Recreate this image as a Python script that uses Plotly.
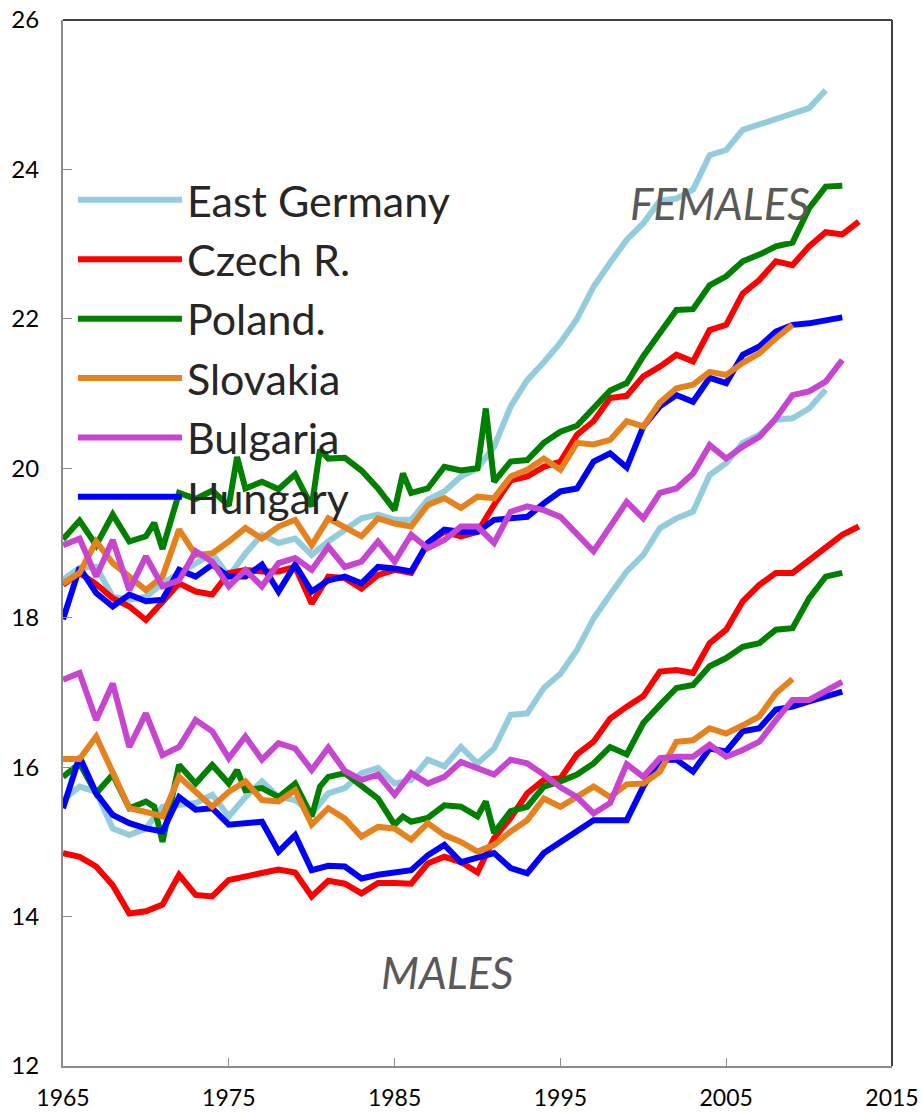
import plotly.graph_objects as go

# ---------------- data ----------------
years_eg = list(range(1965, 2012))
eg_f = [18.51, 18.67, 18.68, 18.28, 18.24, 18.28, 18.46, 18.60, 18.73, 18.86,
        18.55, 18.86, 19.11, 19.00, 19.06, 18.84, 19.02, 19.18, 19.33, 19.38,
        19.31, 19.31, 19.58, 19.69, 19.89, 20.00, 20.29, 20.83, 21.18, 21.42,
        21.68, 22.00, 22.43, 22.75, 23.06, 23.28, 23.58, 23.61, 23.73, 24.19,
        24.26, 24.53, 24.60, 24.69, 24.75, 24.82, 25.06]
eg_m = [15.56, 15.74, 15.67, 15.18, 15.09, 15.18, 15.47, 15.49, 15.52, 15.63,
        15.34, 15.60, 15.81, 15.60, 15.56, 15.38, 15.65, 15.72, 15.92, 15.99,
        15.78, 15.83, 16.10, 16.01, 16.27, 16.05, 16.25, 16.70, 16.72, 17.06,
        17.25, 17.57, 17.99, 18.31, 18.62, 18.84, 19.20, 19.33, 19.42, 19.91,
        20.07, 20.34, 20.45, 20.65, 20.67, 20.80, 21.05]

years_cz = list(range(1965, 2014))
cz_f = [18.44, 18.60, 18.45, 18.26, 18.15, 17.97, 18.21, 18.46, 18.35, 18.31,
        18.60, 18.64, 18.62, 18.62, 18.68, 18.19, 18.55, 18.53, 18.39, 18.57,
        18.64, 18.60, 19.00, 19.15, 19.09, 19.15, 19.51, 19.84, 19.89, 20.02,
        20.09, 20.45, 20.63, 20.94, 20.97, 21.23, 21.36, 21.52, 21.43, 21.85,
        21.92, 22.34, 22.52, 22.77, 22.72, 22.97, 23.16, 23.13, 23.30]
cz_m = [14.85, 14.80, 14.67, 14.42, 14.04, 14.07, 14.16, 14.56, 14.29, 14.27,
        14.49, 14.53, 14.58, 14.63, 14.59, 14.27, 14.48, 14.44, 14.31, 14.45,
        14.45, 14.44, 14.71, 14.80, 14.73, 14.59, 15.05, 15.32, 15.65, 15.83,
        15.85, 16.17, 16.34, 16.65, 16.81, 16.95, 17.28, 17.30, 17.26, 17.66,
        17.84, 18.22, 18.44, 18.60, 18.60, 18.77, 18.95, 19.11, 19.22]

years_pl = [1965, 1966, 1967, 1968, 1969, 1970, 1970.5, 1971, 1972, 1973, 1974,
            1975, 1975.5, 1976, 1977, 1978, 1979, 1980, 1980.5, 1981, 1982,
            1983, 1984, 1985, 1985.5, 1986, 1987, 1988, 1989, 1990, 1990.5,
            1991, 1992, 1993, 1994, 1995, 1996, 1997, 1998, 1999, 2000, 2001,
            2002, 2003, 2004, 2005, 2006, 2007, 2008, 2009, 2010, 2011, 2012]
pl_f = [19.05, 19.30, 18.97, 19.38, 19.02, 19.09, 19.27, 18.92, 19.67, 19.59,
        19.70, 19.50, 20.15, 19.73, 19.82, 19.72, 19.92, 19.49, 20.25, 20.13,
        20.14, 19.97, 19.73, 19.44, 19.93, 19.67, 19.73, 20.02, 19.97, 20.00,
        20.80, 19.82, 20.09, 20.11, 20.34, 20.49, 20.57, 20.80, 21.04, 21.14,
        21.50, 21.81, 22.12, 22.13, 22.45, 22.57, 22.77, 22.86, 22.97, 23.02,
        23.48, 23.77, 23.78]
pl_m = [15.87, 16.05, 15.65, 15.90, 15.45, 15.54, 15.47, 15.00, 16.03, 15.78,
        16.03, 15.78, 15.96, 15.69, 15.72, 15.60, 15.78, 15.34, 15.74, 15.87,
        15.92, 15.74, 15.58, 15.23, 15.34, 15.27, 15.32, 15.49, 15.47, 15.34,
        15.54, 15.12, 15.41, 15.47, 15.74, 15.81, 15.90, 16.05, 16.27, 16.17,
        16.59, 16.83, 17.06, 17.10, 17.35, 17.46, 17.61, 17.66, 17.84, 17.86,
        18.26, 18.55, 18.60]

years_sk = list(range(1965, 2010))
sk_f = [18.46, 18.60, 19.02, 18.73, 18.55, 18.37, 18.55, 19.18, 18.84, 18.86,
        19.02, 19.20, 19.06, 19.22, 19.31, 18.97, 19.33, 19.22, 19.09, 19.33,
        19.26, 19.22, 19.51, 19.60, 19.47, 19.62, 19.60, 19.89, 19.98, 20.13,
        19.98, 20.34, 20.32, 20.38, 20.63, 20.56, 20.88, 21.07, 21.12, 21.29,
        21.25, 21.41, 21.54, 21.74, 21.92]
sk_m = [16.11, 16.11, 16.41, 15.92, 15.45, 15.40, 15.34, 15.87, 15.67, 15.47,
        15.67, 15.81, 15.56, 15.54, 15.69, 15.23, 15.45, 15.31, 15.07, 15.20,
        15.18, 15.03, 15.25, 15.09, 15.00, 14.87, 14.96, 15.14, 15.29, 15.58,
        15.47, 15.60, 15.74, 15.60, 15.77, 15.78, 15.94, 16.34, 16.36, 16.52,
        16.45, 16.56, 16.68, 16.99, 17.18]

years_bg = list(range(1965, 2013))
bg_f = [18.97, 19.06, 18.55, 19.04, 18.37, 18.82, 18.42, 18.50, 18.89, 18.75,
        18.42, 18.64, 18.42, 18.73, 18.80, 18.64, 18.95, 18.68, 18.75, 19.02,
        18.75, 19.11, 18.93, 19.04, 19.22, 19.22, 19.00, 19.42, 19.49, 19.44,
        19.35, 19.13, 18.89, 19.22, 19.55, 19.33, 19.67, 19.73, 19.93, 20.31,
        20.13, 20.29, 20.42, 20.67, 20.98, 21.03, 21.16, 21.45]
bg_m = [17.17, 17.26, 16.63, 17.12, 16.27, 16.72, 16.16, 16.27, 16.63, 16.48,
        16.12, 16.41, 16.10, 16.32, 16.25, 15.96, 16.26, 15.95, 15.83, 15.90,
        15.63, 15.92, 15.78, 15.87, 16.07, 15.99, 15.90, 16.10, 16.05, 15.90,
        15.73, 15.60, 15.38, 15.52, 16.04, 15.87, 16.12, 16.14, 16.14, 16.30,
        16.14, 16.23, 16.34, 16.63, 16.90, 16.90, 17.01, 17.14]

years_hu = list(range(1965, 2013))
hu_f = [17.98, 18.67, 18.33, 18.15, 18.31, 18.22, 18.24, 18.64, 18.55, 18.71,
        18.55, 18.55, 18.71, 18.35, 18.71, 18.35, 18.50, 18.55, 18.46, 18.68,
        18.66, 18.62, 19.00, 19.18, 19.15, 19.15, 19.31, 19.33, 19.35, 19.53,
        19.69, 19.73, 20.09, 20.20, 20.01, 20.56, 20.83, 20.98, 20.89, 21.21,
        21.14, 21.52, 21.63, 21.83, 21.92, 21.94, 21.98, 22.02]
hu_m = [15.45, 16.14, 15.65, 15.36, 15.25, 15.18, 15.14, 15.60, 15.43, 15.45,
        15.23, 15.25, 15.27, 14.87, 15.09, 14.62, 14.68, 14.67, 14.51, 14.56,
        14.60, 14.62, 14.82, 14.96, 14.73, 14.80, 14.85, 14.65, 14.58, 14.85,
        15.00, 15.14, 15.29, 15.29, 15.29, 15.74, 16.10, 16.10, 15.94, 16.25,
        16.21, 16.48, 16.52, 16.77, 16.81, 16.88, 16.94, 17.01]

x_ticks = [1965, 1975, 1985, 1995, 2005, 2015]
y_ticks = [12, 14, 16, 18, 20, 22, 24, 26]

# (name, years, female, male, colour, legend rank) in drawing order
series = [
    ("East Germany", years_eg, eg_f, eg_m, "#93CDDD", 1),
    ("Czech R.", years_cz, cz_f, cz_m, "#FF0000", 2),
    ("Poland.", years_pl, pl_f, pl_m, "#008000", 3),
    ("Hungary", years_hu, hu_f, hu_m, "#0000FF", 6),
    ("Slovakia", years_sk, sk_f, sk_m, "#E5821E", 4),
    ("Bulgaria", years_bg, bg_f, bg_m, "#C745D1", 5),
]

fig = go.Figure()
for name, yrs, fem, mal, col, rank in series:
    fig.add_trace(go.Scatter(x=yrs, y=fem, mode="lines", name=name,
                             legendgroup=name, legendrank=rank,
                             line=dict(color=col, width=6)))
    fig.add_trace(go.Scatter(x=yrs, y=mal, mode="lines", name=name + " (males)",
                             legendgroup=name, legendrank=rank, showlegend=False,
                             line=dict(color=col, width=6)))

fig.add_annotation(x=2004.6, y=23.55, text="FEMALES", showarrow=False,
                   font=dict(family="Lato", size=44, color="#595959", style="italic"))
fig.add_annotation(x=1988.2, y=13.26, text="MALES", showarrow=False,
                   font=dict(family="Lato", size=44, color="#595959", style="italic"))

# top and right frame
fig.add_shape(type="line", xref="paper", yref="paper", x0=0, x1=1, y0=1, y1=1,
              line=dict(color="#404040", width=2), layer="above")
fig.add_shape(type="line", xref="paper", yref="paper", x0=1, x1=1, y0=0, y1=1,
              line=dict(color="#404040", width=2), layer="above")

fig.update_layout(
    width=923, height=1113,
    margin=dict(l=63, r=31, t=20, b=47),
    paper_bgcolor="white", plot_bgcolor="white",
    font=dict(family="Lato", color="#000000"),
    showlegend=True,
    legend=dict(x=0.012, y=0.861, xanchor="left", yanchor="top",
                bgcolor="rgba(0,0,0,0)", itemwidth=104, tracegroupgap=0.5,
                font=dict(family="Lato", size=43, color="#262626")),
    xaxis=dict(range=[1965, 2015], tickvals=x_ticks, ticks="inside", ticklen=8,
               tickcolor="#8c8c8c", showline=True, linecolor="#8c8c8c", linewidth=2,
               showgrid=False, zeroline=False, ticklabelstandoff=10, automargin=False,
               ticklabeloverflow="allow",
               tickfont=dict(family="Lato", size=23, color="#000000")),
    yaxis=dict(range=[12, 26], tickvals=y_ticks, ticks="inside", ticklen=9,
               tickcolor="#8c8c8c", showline=True, linecolor="#8c8c8c", linewidth=2,
               showgrid=False, zeroline=False, ticklabelstandoff=17, automargin=False,
               ticklabeloverflow="allow",
               tickfont=dict(family="Lato", size=24, color="#000000")),
)

# remove the default page margin so the figure fills the window exactly
fig.write_html("out.html", config={"displayModeBar": False},
               post_script="document.body.style.margin='0';")
